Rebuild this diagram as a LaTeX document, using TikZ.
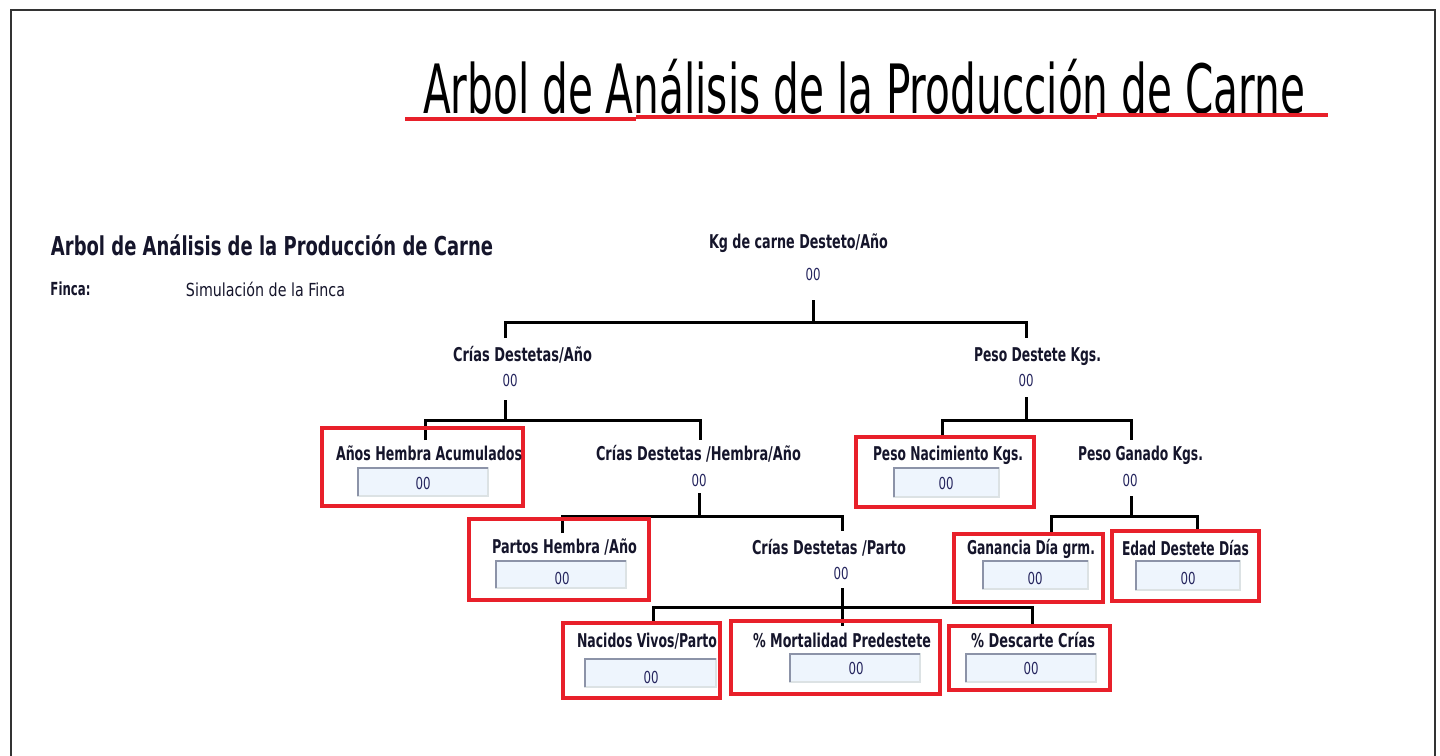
\documentclass[tikz,border=0pt]{standalone}
\usepackage{fontspec}
\setmainfont{DejaVu Sans}
\usepackage{graphicx}
\definecolor{boxred}{HTML}{E8202A}
\definecolor{labc}{HTML}{15152B}
\definecolor{valc}{HTML}{25255E}
\definecolor{inblue}{HTML}{EEF5FD}
\definecolor{indark}{HTML}{8C93A8}
\definecolor{inlight}{HTML}{DCE2E4}
\definecolor{framec}{HTML}{333333}
\newcommand\fitw[2]{\resizebox{#1pt}{\height}{#2}}
\newcommand\inbox[4]{\path[ibox] (#1,#2) rectangle (#3,#4);
  \draw[indark, line width=1.8pt] (#1,#4) -- (#1,#2) -- (#3,#2);}
\begin{document}
\begin{tikzpicture}[x=1pt,y=-1pt,
  lab/.style={inner sep=0, anchor=base, text=labc, font=\fontsize{19}{19}\selectfont\bfseries},
  val/.style={inner sep=0, anchor=base, text=valc, font=\fontsize{16.5}{17}\selectfont},
  rbox/.style={draw=boxred, line width=4pt},
  ibox/.style={fill=inblue, draw=inlight, line width=1.2pt},
  tree/.style={line width=3pt, black},
  redline/.style={boxred, line width=4pt}]
\useasboundingbox (0,0) rectangle (1440,755);
\fill[white] (0,0) rectangle (1440,755);
% frame
\draw[framec, line width=1.2pt] (11,760) -- (11,10) -- (1435,10) -- (1435,760);

% main title
\node[anchor=base, inner sep=0, text=black, font=\fontsize{68}{68}\selectfont] (title) at (864,113)
  {\fitw{882}{Arbol de Análisis de la Producción de Carne}};
\draw[redline] (405,119) -- (636,119);
\draw[redline] (636,117) -- (1097,117);
\draw[redline] (1097,115) -- (1328,115);

% subtitle
\node[anchor=base, inner sep=0, text=labc, font=\fontsize{26}{26}\selectfont\bfseries] (sub) at (272,255)
  {\fitw{442}{Arbol de Análisis de la Producción de Carne}};
\node[anchor=base, inner sep=0, text=labc, font=\fontsize{18}{18}\selectfont\bfseries] (finca) at (70.5,295)
  {\fitw{40}{Finca:}};
\node[anchor=base, inner sep=0, text=labc, font=\fontsize{18}{18}\selectfont] (sim) at (265.5,296)
  {\fitw{159}{Simulación de la Finca}};

% ---------- tree connectors ----------
\coordinate (rS) at (813,300);  \coordinate (rB) at (813,322);
\coordinate (aT) at (505,338);  \coordinate (bT) at (1026,338);
\draw[tree] (rS) -- (rB);
\draw[tree] (aT) -- ++(0,-16) -| (bT);

\coordinate (aS) at (505,400);  \coordinate (aB) at (505,420);
\coordinate (ahT) at (425,440); \coordinate (chT) at (700,440);
\draw[tree] (aS) -- (aB);
\draw[tree] (ahT) -- ++(0,-20) -| (chT);

\coordinate (bS) at (1026,397); \coordinate (bB) at (1026,420);
\coordinate (pnT) at (942,436); \coordinate (pgT) at (1131,440);
\draw[tree] (bS) -- (bB);
\draw[tree] (pnT) -- ++(0,-16) -| (pgT);

\coordinate (chS) at (699,493); \coordinate (chB) at (699,516);
\coordinate (phT) at (562,533); \coordinate (cpT) at (842,531);
\draw[tree] (chS) -- (chB);
\draw[tree] (phT) -- ++(0,-17) -| (cpT);

\coordinate (cpS) at (842,588); \coordinate (cpB) at (842,607);
\coordinate (nvT) at (653,623); \coordinate (mpT) at (842,626); \coordinate (dcT) at (1032,626);
\draw[tree] (cpS) -- (cpB);
\draw[tree] (nvT) -- ++(0,-16) -| (dcT);
\draw[tree] (cpB) -- (mpT);

\coordinate (pgS) at (1131,496); \coordinate (pgB) at (1131,516);
\coordinate (gdT) at (1051,535); \coordinate (edT) at (1197,531);
\draw[tree] (pgS) -- (pgB);
\draw[tree] (gdT) -- ++(0,-19) -| (edT);

% ---------- red boxes ----------
\draw[rbox] (322,428) rectangle (523,506);
\draw[rbox] (856,437) rectangle (1034,507);
\draw[rbox] (469,519) rectangle (649,600);
\draw[rbox] (954,534) rectangle (1103,602);
\draw[rbox] (1112,531) rectangle (1259,601);
\draw[rbox] (563,623) rectangle (720,698);
\draw[rbox] (731,621) rectangle (940,694);
\draw[rbox] (949,626) rectangle (1110,690);

% ---------- input boxes ----------
\inbox{358}{468}{488}{496}
\inbox{894}{468}{999}{497}
\inbox{496}{561}{626}{588}
\inbox{983}{561}{1088}{589}
\inbox{1136}{561}{1240}{590}
\inbox{585}{659}{716}{687}
\inbox{790}{654}{920}{682}
\inbox{966}{654}{1096}{682}

% ---------- labels and values ----------
\node[lab] (kg) at (798.5,248) {\fitw{179}{Kg de carne Desteto/Año}};
\node[val] (kgv) at (813,280) {\fitw{15}{00}};

\node[lab] (cda) at (522.5,361) {\fitw{139}{Crías Destetas/Año}};
\node[val] (cdav) at (510,386) {\fitw{15}{00}};
\node[lab] (pd) at (1037.5,361) {\fitw{127}{Peso Destete Kgs.}};
\node[val] (pdv) at (1026,386) {\fitw{15}{00}};

\node[lab] (aha) at (429,460) {\fitw{186}{Años Hembra Acumulados}};
\node[val] (ahav) at (423,489) {\fitw{15}{00}};
\node[lab] (cdh) at (698.5,460) {\fitw{205}{Crías Destetas /Hembra/Año}};
\node[val] (cdhv) at (699,486) {\fitw{15}{00}};
\node[lab] (pn) at (948,460) {\fitw{150}{Peso Nacimiento Kgs.}};
\node[val] (pnv) at (946,489) {\fitw{15}{00}};
\node[lab] (pg) at (1140.5,460) {\fitw{125}{Peso Ganado Kgs.}};
\node[val] (pgv) at (1130,486) {\fitw{15}{00}};

\node[lab] (pha) at (564.5,553) {\fitw{145}{Partos Hembra /Año}};
\node[val] (phav) at (562,584) {\fitw{15}{00}};
\node[lab] (cdp) at (829,554) {\fitw{154}{Crías Destetas /Parto}};
\node[val] (cdpv) at (841,579) {\fitw{15}{00}};
\node[lab] (gd) at (1031,554) {\fitw{128}{Ganancia Día grm.}};
\node[val] (gdv) at (1035,584) {\fitw{15}{00}};
\node[lab] (ed) at (1185.5,555) {\fitw{127}{Edad Destete Días}};
\node[val] (edv) at (1188,584) {\fitw{15}{00}};

\node[lab] (nv) at (647,647) {\fitw{140}{Nacidos Vivos/Parto}};
\node[val] (nvv) at (651,683) {\fitw{15}{00}};
\node[lab] (mp) at (842,647) {\fitw{178}{\% Mortalidad Predestete}};
\node[val] (mpv) at (856,674) {\fitw{15}{00}};
\node[lab] (dc) at (1033,647) {\fitw{124}{\% Descarte Crías}};
\node[val] (dcv) at (1031,674) {\fitw{15}{00}};
\end{tikzpicture}
\end{document}
